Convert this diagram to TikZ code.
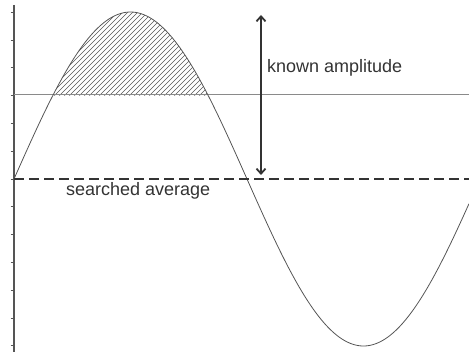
\documentclass[tikz,border=0pt]{standalone}
\usepackage{fontspec}
\setmainfont{Liberation Sans}
\usetikzlibrary{arrows.meta}
\definecolor{ink}{HTML}{333333}
\definecolor{curve}{HTML}{555555}
\definecolor{thin}{HTML}{8A8A8A}
\tikzset{
  axisline/.style={draw=curve, line width=1.3pt},
  tickline/.style={draw=curve, line width=0.9pt},
  sinecurve/.style={draw=curve, line width=0.8pt},
  levelline/.style={draw=thin, line width=1pt},
  avgline/.style={draw=ink, line width=2.4pt, dash pattern=on 10pt off 5pt},
  amparrow/.style={draw=ink, line width=1.8pt, {Straight Barb[length=5pt,width=9pt]}-{Straight Barb[length=5pt,width=9pt]}},
  hatchline/.style={draw=curve, line width=0.5pt},
  label/.style={text=ink, font=\fontsize{18}{20}\selectfont, inner sep=0pt}
}
\begin{document}
\begin{tikzpicture}[x=1pt,y=-1pt]
\useasboundingbox (0,0) rectangle (469,352);
% hatched region
\begin{scope}
  \clip plot[domain=52.8:208.2, samples=80] (\x,{179-167*sin((\x-14)/233*180)}) -- cycle;
  \foreach \k in {-40,-35,...,250} {
    \draw[hatchline] (\k,100) -- ++(100,-100);
  }
\end{scope}
% axis and ticks
\coordinate (axtop) at (14,5);
\coordinate (axbot) at (14,352);
\draw[axisline] (axtop) -- (axbot);
\foreach \i in {0,...,12} {
  \draw[tickline] (10.5,{12.3+27.8*\i}) -- (14,{12.3+27.8*\i});
}
% level line at half amplitude
\coordinate (lvlL) at (14,95);
\coordinate (lvlR) at (469,95);
\draw[levelline] (lvlL) -- (lvlR);
% sine curve
\draw[sinecurve] plot[domain=14:469, samples=240] (\x,{179-167*sin((\x-14)/233*180)});
% average line
\coordinate (avgL) at (14,179);
\coordinate (avgR) at (469,179);
\draw[avgline] (avgL) -- (avgR);
% amplitude arrow
\coordinate (atop) at (261,15);
\coordinate (abot) at (261,175);
\draw[amparrow] (atop) -- (abot);
% labels
\node[label, anchor=base west] (amp) at (267,73) {known amplitude};
\node[label, anchor=base west] (avg) at (66,196) {searched average};
\end{tikzpicture}
\end{document}
